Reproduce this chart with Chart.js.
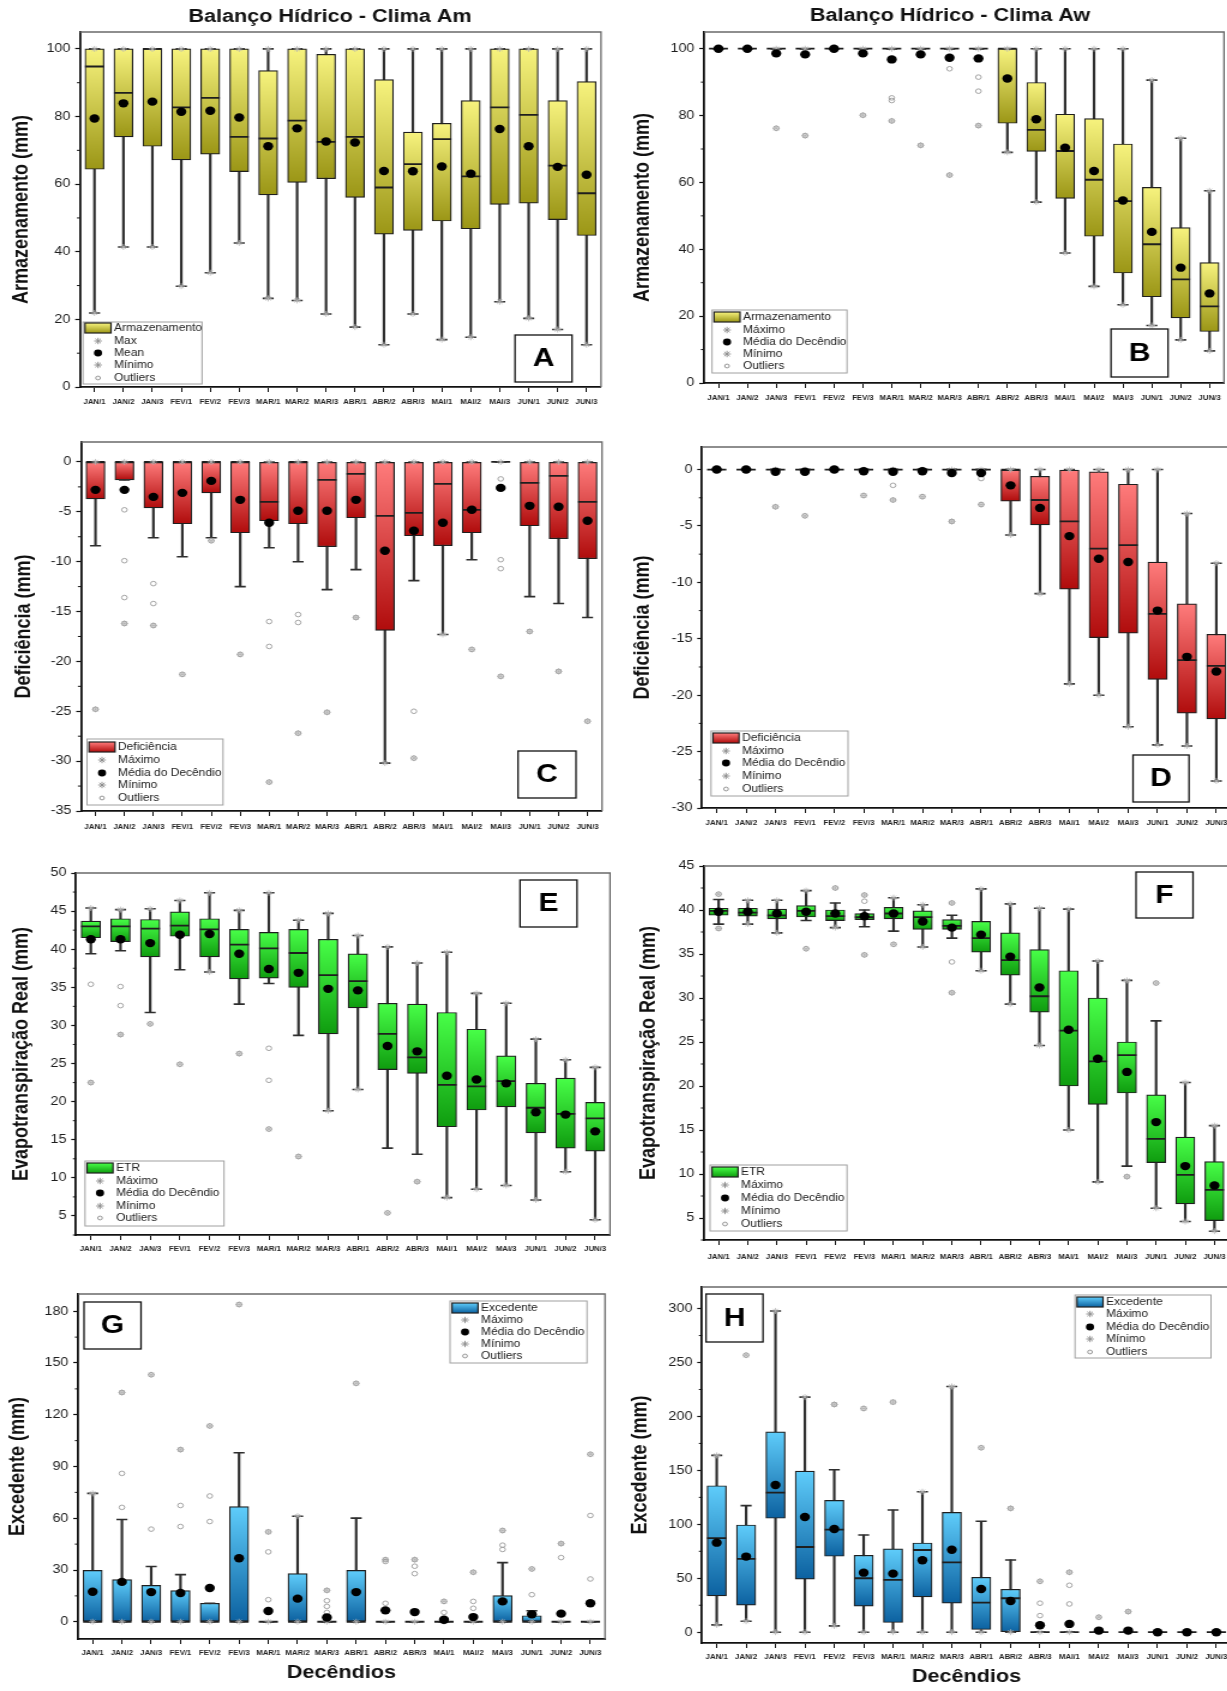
<!DOCTYPE html>
<html lang="pt">
<head>
<meta charset="utf-8">
<title>Balanço Hídrico - Clima Am e Clima Aw</title>
<script src="https://cdn.jsdelivr.net/npm/chart.js@4.4.1/dist/chart.umd.min.js"></script>
<style>
  html, body { margin: 0; padding: 0; background: #ffffff; width: 1227px; height: 1691px; overflow: hidden; }
  .panel { position: absolute; transform-origin: 0 0; }
  .panel canvas { display: block; }
</style>
</head>
<body>
<div class="panel" id="pA"></div>
<div class="panel" id="pB"></div>
<div class="panel" id="pC"></div>
<div class="panel" id="pD"></div>
<div class="panel" id="pE"></div>
<div class="panel" id="pF"></div>
<div class="panel" id="pG"></div>
<div class="panel" id="pH"></div>
<script>
// ---------- categories ----------
const decendios = ['JAN/1','JAN/2','JAN/3','FEV/1','FEV/2','FEV/3','MAR/1','MAR/2','MAR/3',
                   'ABR/1','ABR/2','ABR/3','MAI/1','MAI/2','MAI/3','JUN/1','JUN/2','JUN/3'];

// ---------- Armazenamento, clima Am (mm) ----------
const armAmLow  = [21.9, 41.4, 41.4, 29.8, 33.8, 42.6, 26.2, 25.6, 21.6, 17.7, 12.5, 21.6, 14.0, 14.7, 25.2, 20.3, 17.0, 12.5];
const armAmQ1   = [64.4, 74.0, 71.2, 67.2, 68.9, 63.7, 56.8, 60.5, 61.6, 56.1, 45.2, 46.3, 49.1, 46.8, 54.0, 54.4, 49.5, 44.8];
const armAmMed  = [94.8, 87.0, 100, 82.7, 85.5, 74.0, 73.5, 78.8, 72.5, 74.0, 59.0, 65.9, 73.3, 62.3, 82.7, 80.5, 65.5, 57.3];
const armAmQ3   = [100, 100, 100, 100, 100, 100, 93.6, 100, 98.4, 100, 90.9, 75.4, 78.0, 84.7, 100, 100, 84.7, 90.3];
const armAmHigh = [100, 100, 100, 100, 100, 100, 100, 100, 100, 100, 100, 100, 100, 100, 100, 100, 100, 100];
const armAmMean = [79.4, 83.9, 84.4, 81.4, 81.7, 79.7, 71.2, 76.5, 72.6, 72.3, 63.9, 63.8, 65.2, 63.1, 76.3, 71.2, 65.1, 62.8];
const armAmOut  = [[], [], [], [], [], [], [], [], [], [], [], [], [], [], [], [], [], []];

// ---------- Armazenamento, clima Aw (mm) ----------
const armAwLow  = [100, 100, 100, 100, 100, 100, 100, 100, 100, 100, 69.0, 54.1, 38.9, 28.9, 23.4, 17.2, 12.9, 9.6];
const armAwQ1   = [100, 100, 100, 100, 100, 100, 100, 100, 100, 100, 77.7, 69.3, 55.2, 43.9, 32.9, 25.8, 19.5, 15.4];
const armAwMed  = [100, 100, 100, 100, 100, 100, 100, 100, 100, 100, 100, 75.7, 69.4, 60.8, 54.4, 41.5, 31.0, 22.9];
const armAwQ3   = [100, 100, 100, 100, 100, 100, 100, 100, 100, 100, 100, 89.9, 80.4, 79.1, 71.5, 58.5, 46.5, 36.0];
const armAwHigh = [100, 100, 100, 100, 100, 100, 100, 100, 100, 100, 100, 100, 100, 100, 100, 90.6, 73.2, 57.5];
const armAwMean = [100, 100, 98.6, 98.3, 100, 98.6, 96.8, 98.3, 97.3, 97.1, 91.1, 78.9, 70.4, 63.4, 54.6, 45.2, 34.5, 26.8];
const armAwOut  = [[], [], [76.2], [74.0], [], [80.1], [85.3, 84.5, 78.4], [71.1], [94.0, 62.2], [91.5, 87.3, 77.0],
                   [], [], [], [], [], [], [], []];

// ---------- Deficiência, clima Am (mm) ----------
const defAmLow  = [-8.4, -1.8, -7.6, -9.5, -7.6, -12.5, -8.6, -10.0, -12.8, -10.8, -30.2, -11.9, -17.3, -9.8, 0, -13.5, -14.2, -15.6];
const defAmQ1   = [-3.7, -1.8, -4.6, -6.2, -3.1, -7.1, -5.9, -6.2, -8.5, -5.6, -16.9, -7.4, -8.4, -7.1, 0, -6.4, -7.7, -9.7];
const defAmMed  = [0, 0, 0, 0, 0, 0, -4.0, 0, -1.8, -1.2, -5.4, -5.1, -2.2, -4.8, 0, -2.1, -1.4, -4.0];
const defAmQ3   = [0, 0, 0, 0, 0, 0, 0, 0, 0, 0, 0, 0, 0, 0, 0, 0, 0, 0];
const defAmHigh = [0, 0, 0, 0, 0, 0, 0, 0, 0, 0, 0, 0, 0, 0, 0, 0, 0, 0];
const defAmMean = [-2.8, -2.8, -3.5, -3.1, -1.9, -3.8, -6.1, -4.9, -4.9, -3.8, -8.9, -6.9, -6.1, -4.8, -2.6, -4.4, -4.5, -5.9];
const defAmOut  = [[-24.8], [-4.8, -9.9, -13.6, -16.2], [-12.2, -14.2, -16.4], [-21.3], [-7.9], [-19.3],
                   [-16.0, -18.5, -32.1], [-15.3, -16.1, -27.2], [-25.1], [-15.6], [], [-25.0, -29.7],
                   [], [-18.8], [-1.7, -9.8, -10.7, -21.5], [-17.0], [-21.0], [-26.0]];

// ---------- Deficiência, clima Aw (mm) ----------
const defAwLow  = [0, 0, 0, 0, 0, 0, 0, 0, 0, 0, -5.8, -11.0, -19.0, -20.0, -22.8, -24.4, -24.5, -27.6];
const defAwQ1   = [0, 0, 0, 0, 0, 0, 0, 0, 0, 0, -2.8, -4.9, -10.6, -14.9, -14.5, -18.6, -21.6, -22.1];
const defAwMed  = [0, 0, 0, 0, 0, 0, 0, 0, 0, 0, 0, -2.7, -4.6, -7.0, -6.7, -12.8, -16.9, -17.4];
const defAwQ3   = [0, 0, 0, 0, 0, 0, 0, 0, 0, 0, 0, -0.6, 0, -0.2, -1.3, -8.2, -11.9, -14.6];
const defAwHigh = [0, 0, 0, 0, 0, 0, 0, 0, 0, 0, 0, 0, 0, 0, 0, 0, -3.9, -8.3];
const defAwMean = [0, 0, -0.2, -0.2, 0, -0.15, -0.2, -0.15, -0.3, -0.3, -1.4, -3.4, -5.9, -7.9, -8.2, -12.5, -16.6, -17.9];
const defAwOut  = [[], [], [-3.3], [-4.1], [], [-2.3], [-1.4, -2.7], [-2.4], [-4.6], [-0.8, -3.1],
                   [], [], [], [], [], [], [], []];

// ---------- ETR, clima Am (mm) ----------
const etrAmLow  = [39.4, 39.8, 31.7, 37.3, 37.0, 32.8, 35.5, 28.7, 18.8, 21.6, 13.9, 13.1, 7.4, 8.5, 9.0, 7.1, 10.8, 4.5];
const etrAmQ1   = [41.5, 41.0, 39.0, 41.7, 39.0, 36.1, 36.2, 35.0, 28.9, 32.3, 24.2, 23.7, 16.7, 18.9, 19.3, 15.9, 13.9, 13.5];
const etrAmMed  = [43.0, 43.0, 42.7, 43.1, 42.6, 40.6, 40.1, 39.5, 36.6, 35.8, 28.9, 25.8, 22.2, 22.0, 22.7, 19.2, 18.4, 17.8];
const etrAmQ3   = [43.7, 44.0, 43.9, 44.9, 44.0, 42.6, 42.2, 42.6, 41.3, 39.4, 32.9, 32.8, 31.7, 29.5, 26.0, 22.4, 23.1, 19.9];
const etrAmHigh = [45.4, 45.2, 45.3, 46.4, 47.4, 45.1, 47.4, 43.8, 44.7, 41.8, 40.3, 38.2, 39.6, 34.2, 32.9, 28.2, 25.5, 24.5];
const etrAmMean = [41.3, 41.3, 40.8, 41.9, 42.0, 39.4, 37.4, 36.9, 34.8, 34.6, 27.3, 26.6, 23.4, 22.9, 22.4, 18.6, 18.3, 16.1];
const etrAmOut  = [[35.4, 22.5], [35.1, 32.6, 28.8], [30.2], [24.9], [], [26.3], [27.0, 22.8, 16.4], [12.8],
                   [], [], [5.4], [9.5], [], [], [], [], [], []];

// ---------- ETR, clima Aw (mm) ----------
const etrAwLow  = [38.4, 38.4, 37.4, 38.8, 38.0, 38.1, 37.6, 35.8, 36.8, 33.1, 29.3, 24.6, 15.0, 9.1, 10.9, 6.1, 4.6, 3.5];
const etrAwQ1   = [39.4, 39.3, 39.0, 39.2, 38.8, 38.9, 39.0, 37.8, 37.8, 35.2, 32.6, 28.4, 20.0, 17.9, 19.2, 11.3, 6.6, 4.7];
const etrAwMed  = [39.9, 39.7, 39.4, 39.9, 39.3, 39.2, 39.6, 39.2, 38.2, 36.8, 34.3, 30.2, 26.3, 22.8, 23.5, 14.0, 9.9, 8.2];
const etrAwQ3   = [40.2, 40.2, 40.1, 40.5, 40.0, 39.6, 40.3, 39.9, 38.9, 38.7, 37.4, 35.5, 33.1, 30.0, 25.0, 19.0, 14.2, 11.4];
const etrAwHigh = [41.2, 41.1, 41.1, 42.2, 40.8, 40.0, 41.4, 40.6, 39.4, 42.4, 40.7, 40.2, 40.1, 34.2, 32.0, 27.4, 20.4, 15.5];
const etrAwMean = [39.8, 39.8, 39.6, 39.8, 39.6, 39.3, 39.6, 38.7, 38.0, 37.2, 34.7, 31.2, 26.4, 23.1, 21.6, 15.9, 10.9, 8.7];
const etrAwOut  = [[41.8, 37.9], [], [], [35.6], [42.5], [41.7, 41.0, 34.9], [36.1], [], [40.8, 34.1, 30.6],
                   [], [], [], [], [], [9.7], [31.7], [], []];

// ---------- Excedente, clima Am (mm) ----------
const excAmLow  = [0, 0, 0, 0, 0, 0, 0, 0, 0, 0, 0, 0, 0, 0, 0, 0, 0, 0];
const excAmQ1   = [0, 0, 0, 0, 0, 0, 0, 0, 0, 0, 0, 0, 0, 0, 0, 0, 0, 0];
const excAmMed  = [0, 0, 0, 0, 0, 0, 0, 0, 0, 0, 0, 0, 0, 0, 0, 0, 0, 0];
const excAmQ3   = [29.8, 24.4, 21.1, 18.0, 10.7, 66.7, 0, 27.9, 0, 29.8, 0, 0, 0, 0, 15.1, 3.5, 0, 0];
const excAmHigh = [74.4, 59.3, 32.0, 27.3, 10.7, 98.0, 0, 61.2, 0, 60.1, 0, 0, 0, 0, 34.3, 6.4, 0, 0];
const excAmMean = [17.4, 23.1, 17.2, 16.7, 19.6, 36.8, 6.2, 13.4, 2.5, 17.2, 6.6, 5.6, 1.2, 2.7, 11.8, 4.3, 4.7, 10.7];
const excAmOut  = [[], [66.3, 86.0, 132.9], [53.7, 143.2], [55.2, 67.4, 99.8], [58.1, 72.9, 113.5], [183.9],
                   [12.8, 40.5, 52.1], [], [5.4, 8.9, 12.2, 18.2], [138.2], [10.7, 34.9, 36.0], [27.9, 32.2, 36.0],
                   [5.4, 11.8], [7.8, 11.8, 28.7], [41.9, 44.4, 52.9], [15.7, 30.6], [37.2, 45.3], [24.8, 61.6, 97.1]];

// ---------- Excedente, clima Aw (mm) ----------
const excAwLow  = [6.8, 10.2, 0, 0, 5.9, 0, 0, 0, 0, 0, 0, 0, 0, 0, 0, 0, 0, 0];
const excAwQ1   = [33.6, 25.0, 105.6, 49.1, 70.4, 24.1, 9.0, 32.7, 26.9, 2.5, 0, 0, 0, 0, 0, 0, 0, 0];
const excAwMed  = [87.3, 67.9, 129.3, 79.0, 95.1, 50.0, 48.5, 76.2, 64.8, 27.5, 31.5, 0, 0, 0, 0, 0, 0, 0];
const excAwQ3   = [135.8, 99.4, 185.8, 149.4, 122.2, 71.3, 77.2, 82.7, 111.1, 50.9, 39.8, 0, 0, 0, 0, 0, 0, 0];
const excAwHigh = [163.9, 117.3, 297.8, 217.9, 150.6, 90.1, 113.3, 130.2, 227.8, 102.8, 67.0, 0, 0, 0, 0, 0, 0, 0];
const excAwMean = [83.0, 70.1, 136.4, 106.8, 95.7, 55.2, 54.3, 66.7, 76.5, 40.1, 29.0, 6.5, 7.7, 1.5, 1.5, 0, 0, 0];
const excAwOut  = [[], [256.8], [], [], [211.1], [207.4], [213.3], [], [], [171.0], [114.8],
                   [47.2, 26.9, 15.4, 7.7], [55.6, 43.5, 26.2], [13.9, 1.5], [19.1], [], [], []];

// ---------- legend texts ----------
const legendArmAm = ['Armazenamento', 'Max', 'Mean', 'Mínimo', 'Outliers'];
const legendArmAw = ['Armazenamento', 'Máximo', 'Média do Decêndio', 'Mínimo', 'Outliers'];
const legendDef   = ['Deficiência', 'Máximo', 'Média do Decêndio', 'Mínimo', 'Outliers'];
const legendEtr   = ['ETR', 'Máximo', 'Média do Decêndio', 'Mínimo', 'Outliers'];
const legendExc   = ['Excedente', 'Máximo', 'Média do Decêndio', 'Mínimo', 'Outliers'];

// ---------- styling ----------
const FONT = '"Liberation Sans", Arial, Helvetica, sans-serif';
const STRETCH = 1.2;                       // the figure is drawn horizontally widened
const yellowFill = ['#f7f37e', '#9b9616'];
const redFill    = ['#ff7c7c', '#b00c0c'];
const greenFill  = ['#48ff48', '#0f9c0f'];
const blueFill   = ['#5fcdfb', '#0c61a0'];

Chart.defaults.font.family = FONT;
Chart.defaults.color = '#222';

function drawAsterisk(ctx, x, y, r) {
  ctx.beginPath();
  for (let k = 0; k < 4; k++) {
    const a = k * Math.PI / 4;
    ctx.moveTo(x - Math.cos(a) * r, y - Math.sin(a) * r);
    ctx.lineTo(x + Math.cos(a) * r, y + Math.sin(a) * r);
  }
  ctx.stroke();
}

function makePanel(p) {
  const host = document.getElementById(p.id);
  const cw = Math.round(p.width / STRETCH);
  const sx = p.width / cw;
  host.style.left = p.left + 'px';
  host.style.top = p.top + 'px';
  host.style.transform = 'scaleX(' + sx + ')';
  const canvas = document.createElement('canvas');
  canvas.width = cw;
  canvas.height = p.height;
  canvas.style.width = cw + 'px';
  canvas.style.height = p.height + 'px';
  host.appendChild(canvas);

  const X = px => (px - p.left) / sx;      // page x -> canvas x
  const Y = py => py - p.top;               // page y -> canvas y
  const [fl, fr, ft, fb] = p.frame;
  const catW = (X(fr) - X(fl)) / decendios.length;
  const boxW = catW * 0.655;
  const s = p.series;
  const [fillTop, fillBottom] = p.fill;

  const outPts = [];
  s.out.forEach((arr, i) => arr.forEach(v => outPts.push({ x: decendios[i], y: v })));
  const maxPts = s.high.map((h, i) => Math.max(h, ...s.out[i]));
  const minPts = s.low.map((l, i) => Math.min(l, ...s.out[i]));

  const boxFill = (c) => {
    if (c.type !== 'data' || !c.chart.scales.y) return fillTop;
    const r = c.raw;
    const ys = c.chart.scales.y;
    const y0 = ys.getPixelForValue(Math.max(r[0], r[1]));
    const y1 = ys.getPixelForValue(Math.min(r[0], r[1]));
    if (!isFinite(y0) || !isFinite(y1) || y1 - y0 < 0.5) return fillTop;
    const g = c.chart.ctx.createLinearGradient(0, y0, 0, y1);
    g.addColorStop(0, fillTop);
    g.addColorStop(1, fillBottom);
    return g;
  };

  const markerSet = (label, data, order, extra) => Object.assign({
    type: 'line', label, data, showLine: false, order,
    borderColor: 'rgba(0,0,0,0)', backgroundColor: 'rgba(0,0,0,0)'
  }, extra);

  const decor = {
    id: 'decor',
    afterDraw(chart) {
      const ctx = chart.ctx, a = chart.chartArea, ys = chart.scales.y;
      ctx.save();
      // upper and right edges of the frame
      ctx.strokeStyle = '#6a6a6a';
      ctx.lineWidth = 1.3;
      ctx.beginPath();
      ctx.moveTo(a.left, a.top);
      ctx.lineTo(a.right, a.top);
      ctx.lineTo(a.right, a.bottom);
      ctx.stroke();
      // minor ticks on the value axis
      ctx.strokeStyle = '#111';
      ctx.lineWidth = 1;
      const half = p.y.step / 2;
      const k0 = Math.ceil(p.y.min / half - 1e-9), k1 = Math.floor(p.y.max / half + 1e-9);
      for (let k = k0; k <= k1; k++) {
        if (k % 2 === 0) continue;
        const yy = ys.getPixelForValue(k * half);
        ctx.beginPath();
        ctx.moveTo(a.left - 2.6, yy);
        ctx.lineTo(a.left, yy);
        ctx.stroke();
      }
      // panel title
      if (p.title) {
        ctx.font = 'bold 18px ' + FONT;
        ctx.fillStyle = '#111';
        ctx.textAlign = 'center';
        ctx.textBaseline = 'middle';
        ctx.fillText(p.title.text, X(p.title.x), Y(p.title.y));
      }
      // panel letter
      const lb = p.letter.box;
      ctx.fillStyle = '#fff';
      ctx.fillRect(X(lb[0]), Y(lb[1]), X(lb[2]) - X(lb[0]), lb[3] - lb[1]);
      ctx.strokeStyle = '#111';
      ctx.lineWidth = 1.3;
      ctx.strokeRect(X(lb[0]), Y(lb[1]), X(lb[2]) - X(lb[0]), lb[3] - lb[1]);
      ctx.font = 'bold 25px ' + FONT;
      ctx.fillStyle = '#000';
      ctx.textAlign = 'center';
      ctx.textBaseline = 'middle';
      ctx.fillText(p.letter.text, (X(lb[0]) + X(lb[2])) / 2, Y((lb[1] + lb[3]) / 2) + 1);
      // legend
      const L = p.legend, bb = L.box;
      ctx.fillStyle = '#fff';
      ctx.fillRect(X(bb[0]), Y(bb[1]), X(bb[2]) - X(bb[0]), bb[3] - bb[1]);
      ctx.strokeStyle = '#a0a0a0';
      ctx.lineWidth = 1;
      ctx.strokeRect(X(bb[0]), Y(bb[1]), X(bb[2]) - X(bb[0]), bb[3] - bb[1]);
      const sy = Y(L.rows[0]);
      const sg = ctx.createLinearGradient(0, sy - 5, 0, sy + 5);
      sg.addColorStop(0, fillTop);
      sg.addColorStop(1, fillBottom);
      ctx.fillStyle = sg;
      ctx.fillRect(X(bb[0] + 2), sy - 5, 26 / sx, 10);
      ctx.strokeStyle = '#1e1e1e';
      ctx.lineWidth = 1.2;
      ctx.strokeRect(X(bb[0] + 2), sy - 5, 26 / sx, 10);
      const mx = X(bb[0] + 15);
      ctx.strokeStyle = '#8a8a8a';
      ctx.lineWidth = 0.9;
      drawAsterisk(ctx, mx, Y(L.rows[1]), 3.2);
      drawAsterisk(ctx, mx, Y(L.rows[3]), 3.2);
      ctx.fillStyle = '#000';
      ctx.beginPath();
      ctx.arc(mx, Y(L.rows[2]), 3.4, 0, Math.PI * 2);
      ctx.fill();
      ctx.strokeStyle = '#8a8a8a';
      ctx.beginPath();
      ctx.arc(mx, Y(L.rows[4]), 1.9, 0, Math.PI * 2);
      ctx.stroke();
      ctx.font = '10px ' + FONT;
      ctx.fillStyle = '#222';
      ctx.textAlign = 'left';
      ctx.textBaseline = 'middle';
      L.labels.forEach((t, i) => ctx.fillText(t, X(bb[0] + 31), Y(L.rows[i])));
      ctx.restore();
    }
  };

  const xTitle = p.xTitle
    ? { display: true, text: p.xTitle.text, color: '#111', font: { size: 18, weight: 'bold' },
        padding: { top: 0, bottom: (p.top + p.height - p.xTitle.y) - 10.8 } }
    : { display: false };

  return new Chart(canvas, {
    type: 'bar',
    data: {
      labels: decendios,
      datasets: [
        { type: 'bar', label: 'whisker', data: s.low.map((v, i) => [v, s.high[i]]),
          backgroundColor: '#2e2e2e', borderWidth: 0, barThickness: 1.5, grouped: false, order: 10 },
        { type: 'bar', label: p.legend.labels[0], data: s.q1.map((v, i) => [v, s.q3[i]]),
          backgroundColor: boxFill, borderColor: '#1e1e1e', borderWidth: 1.2, borderSkipped: false,
          barThickness: boxW, grouped: false, order: 9 },
        markerSet('mediana', s.med, 8, { pointStyle: 'line', pointRadius: boxW / 2,
          pointBorderColor: '#1e1e1e', pointBorderWidth: 1.8 }),
        markerSet('limite inferior', s.low, 7, { pointStyle: 'line', pointRadius: 4.6,
          pointBorderColor: '#2e2e2e', pointBorderWidth: 1.6 }),
        markerSet('limite superior', s.high, 7, { pointStyle: 'line', pointRadius: 4.6,
          pointBorderColor: '#2e2e2e', pointBorderWidth: 1.6 }),
        markerSet(p.legend.labels[1], maxPts, 6, { pointStyle: 'star', pointRadius: 3,
          pointBorderColor: '#b4b4b4', pointBorderWidth: 0.8 }),
        markerSet(p.legend.labels[3], minPts, 6, { pointStyle: 'star', pointRadius: 3,
          pointBorderColor: '#b4b4b4', pointBorderWidth: 0.8 }),
        markerSet(p.legend.labels[4], outPts, 4, { pointStyle: 'circle', pointRadius: 2.3,
          pointBackgroundColor: 'rgba(255,255,255,0)', pointBorderColor: '#9a9a9a', pointBorderWidth: 0.9 }),
        markerSet(p.legend.labels[2], s.mean, 1, { pointStyle: 'circle', pointRadius: 4.2,
          pointBackgroundColor: '#000', pointBorderColor: '#000', pointBorderWidth: 0 })
      ]
    },
    options: {
      responsive: false,
      animation: false,
      events: [],
      devicePixelRatio: 1,
      layout: { padding: { left: 0, top: ft - p.top, right: cw - X(fr), bottom: 0 } },
      plugins: { legend: { display: false }, tooltip: { enabled: false }, title: { display: false } },
      scales: {
        x: {
          type: 'category',
          offset: true,
          afterFit: (sc) => { sc.height = p.top + p.height - fb; },
          ticks: { font: { size: 6.5, weight: 'bold' }, color: '#222', padding: p.xTickPad,
                   maxRotation: 0, minRotation: 0, autoSkip: false },
          grid: { display: true, drawOnChartArea: false, offset: false, tickLength: 5,
                  tickColor: '#111', tickWidth: 1 },
          border: { display: true, color: '#111', width: 1.8 },
          title: xTitle
        },
        y: {
          type: 'linear',
          min: p.y.min, max: p.y.max,
          afterFit: (sc) => { sc.width = X(fl); },
          ticks: { stepSize: p.y.step, includeBounds: false, font: { size: 12 }, color: '#1e1e1e', padding: 4 },
          grid: { display: true, drawOnChartArea: false, tickLength: 4, tickColor: '#111', tickWidth: 1.2 },
          border: { display: true, color: '#111', width: 1.8 },
          title: { display: true, text: p.yTitle, color: '#111', font: { size: 18, weight: 'bold' },
                   padding: { top: X(p.yTitleX) - 10.8, bottom: 0 } }
        }
      }
    },
    plugins: [decor]
  });
}

// ---------- panels ----------
makePanel({ id: 'pA', left: 0, top: 0, width: 630, height: 410, frame: [80, 601, 32, 387],
  y: { min: 0, max: 105, step: 20 }, yTitle: 'Armazenamento (mm)', yTitleX: 21.5, xTickPad: 6,
  series: { low: armAmLow, q1: armAmQ1, med: armAmMed, q3: armAmQ3, high: armAmHigh, mean: armAmMean, out: armAmOut },
  fill: yellowFill, title: { text: 'Balanço Hídrico - Clima Am', x: 330, y: 17 },
  letter: { text: 'A', box: [515, 335, 572, 382] },
  legend: { box: [83, 322, 202, 384], rows: [328, 341, 353, 365, 378], labels: legendArmAm } });

makePanel({ id: 'pB', left: 614, top: 0, width: 630, height: 410, frame: [704, 1224, 32, 383],
  y: { min: 0, max: 105, step: 20 }, yTitle: 'Armazenamento (mm)', yTitleX: 643, xTickPad: 6,
  series: { low: armAwLow, q1: armAwQ1, med: armAwMed, q3: armAwQ3, high: armAwHigh, mean: armAwMean, out: armAwOut },
  fill: yellowFill, title: { text: 'Balanço Hídrico - Clima Aw', x: 950, y: 16 },
  letter: { text: 'B', box: [1111, 329, 1168, 377] },
  legend: { box: [712, 310, 847, 373], rows: [317, 330, 342, 354, 366], labels: legendArmAw } });

makePanel({ id: 'pC', left: 0, top: 410, width: 630, height: 430, frame: [81, 602, 442, 811],
  y: { min: -35, max: 2, step: 5 }, yTitle: 'Deficiência (mm)', yTitleX: 23.5, xTickPad: 7,
  series: { low: defAmLow, q1: defAmQ1, med: defAmMed, q3: defAmQ3, high: defAmHigh, mean: defAmMean, out: defAmOut },
  fill: redFill,
  letter: { text: 'C', box: [518, 751, 576, 798] },
  legend: { box: [87, 739, 223, 805], rows: [747, 760, 773, 785, 798], labels: legendDef } });

makePanel({ id: 'pD', left: 614, top: 410, width: 630, height: 430, frame: [702, 1231, 447, 808],
  y: { min: -30, max: 2, step: 5 }, yTitle: 'Deficiência (mm)', yTitleX: 643, xTickPad: 6,
  series: { low: defAwLow, q1: defAwQ1, med: defAwMed, q3: defAwQ3, high: defAwHigh, mean: defAwMean, out: defAwOut },
  fill: redFill,
  letter: { text: 'D', box: [1133, 755, 1189, 802] },
  legend: { box: [711, 731, 848, 796], rows: [738, 751, 763, 776, 789], labels: legendDef } });

makePanel({ id: 'pE', left: 0, top: 840, width: 630, height: 430, frame: [76, 610, 873, 1235],
  y: { min: 2.5, max: 50, step: 5 }, yTitle: 'Evapotranspiração Real (mm)', yTitleX: 21.5, xTickPad: 5,
  series: { low: etrAmLow, q1: etrAmQ1, med: etrAmMed, q3: etrAmQ3, high: etrAmHigh, mean: etrAmMean, out: etrAmOut },
  fill: greenFill,
  letter: { text: 'E', box: [520, 880, 577, 927] },
  legend: { box: [85, 1161, 224, 1226], rows: [1168, 1181, 1193, 1206, 1218], labels: legendEtr } });

makePanel({ id: 'pF', left: 614, top: 840, width: 630, height: 430, frame: [704, 1229, 866, 1240],
  y: { min: 2.5, max: 45, step: 5 }, yTitle: 'Evapotranspiração Real (mm)', yTitleX: 649, xTickPad: 8,
  series: { low: etrAwLow, q1: etrAwQ1, med: etrAwMed, q3: etrAwQ3, high: etrAwHigh, mean: etrAwMean, out: etrAwOut },
  fill: greenFill,
  letter: { text: 'F', box: [1136, 872, 1193, 918] },
  legend: { box: [710, 1165, 847, 1231], rows: [1172, 1185, 1198, 1211, 1224], labels: legendEtr } });

makePanel({ id: 'pG', left: 0, top: 1270, width: 630, height: 421, frame: [78, 605, 1294, 1639],
  y: { min: -10, max: 190, step: 30 }, yTitle: 'Excedente (mm)', yTitleX: 17.6, xTickPad: 5,
  xTitle: { text: 'Decêndios', y: 1673 },
  series: { low: excAmLow, q1: excAmQ1, med: excAmMed, q3: excAmQ3, high: excAmHigh, mean: excAmMean, out: excAmOut },
  fill: blueFill,
  letter: { text: 'G', box: [84, 1302, 141, 1349] },
  legend: { box: [450, 1301, 587, 1363], rows: [1308, 1320, 1332, 1344, 1356], labels: legendExc } });

makePanel({ id: 'pH', left: 614, top: 1270, width: 630, height: 421, frame: [702, 1231, 1287, 1643],
  y: { min: -10, max: 320, step: 50 }, yTitle: 'Excedente (mm)', yTitleX: 641, xTickPad: 5,
  xTitle: { text: 'Decêndios', y: 1677 },
  series: { low: excAwLow, q1: excAwQ1, med: excAwMed, q3: excAwQ3, high: excAwHigh, mean: excAwMean, out: excAwOut },
  fill: blueFill,
  letter: { text: 'H', box: [706, 1294, 763, 1342] },
  legend: { box: [1075, 1295, 1211, 1358], rows: [1302, 1314, 1327, 1339, 1352], labels: legendExc } });
</script>
</body>
</html>
